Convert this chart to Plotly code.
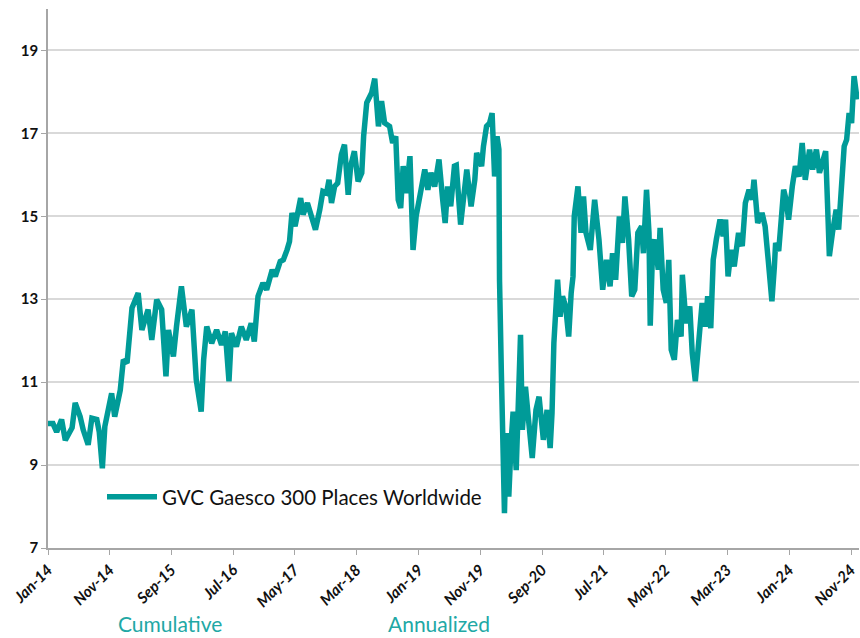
import pandas as pd
import plotly.graph_objects as go

# Months elapsed since Jan-2014 and index level
month_offset = [
    0, 0.8, 1.4, 2.2, 2.8, 3.9, 4.4, 5.2, 5.7, 6.5, 7.1, 7.9, 8.3, 8.8, 9.2, 10.3, 10.8,
    11.7, 12.2, 12.8, 13.6, 14.6, 15.2, 16.2, 16.8, 17.6, 18.4, 19.1, 19.5, 20.3, 20.8,
    21.6, 22.4, 23.3, 24.0, 24.8, 25.2, 25.7, 26.5, 27.3, 28.1, 28.7, 29.3, 29.7, 30.5,
    31.3, 32.1, 32.9, 33.4, 34.0, 34.8, 35.4, 36.3, 36.8, 37.6, 38.1, 38.7, 39.1, 39.5,
    40.0, 40.9, 41.3, 42.0, 42.7, 43.3, 44.0, 44.5, 45.1, 45.5, 45.9, 46.4, 46.9, 47.5,
    48.0, 48.6, 49.0, 49.6, 50.2, 50.8, 51.1, 51.6, 52.4, 52.9, 53.5, 54.0, 54.5, 55.3,
    55.8, 56.3, 56.7, 57.1, 57.5, 58.0, 58.6, 59.1, 59.6, 60.2, 61.0, 61.5, 62.0, 62.6,
    63.3, 63.9, 64.3, 64.7, 65.2, 65.8, 66.1, 66.8, 67.2, 67.8, 68.5, 69.1, 69.4, 70.2,
    70.5, 71.0, 71.5, 71.9, 72.3, 72.7, 73.0, 73.1, 73.4, 73.6, 73.9, 74.2, 74.6, 75.0,
    75.3, 75.8, 76.2, 76.5, 76.8, 77.3, 77.8, 78.4, 79.0, 79.5, 80.2, 80.8, 81.3, 81.6,
    81.9, 82.2, 82.5, 82.9, 83.3, 83.8, 84.3, 84.7, 85.0, 85.2, 85.8, 86.3, 86.7, 87.1,
    87.8, 88.5, 89.2, 89.8, 90.4, 91.0, 91.4, 91.9, 92.5, 93.0, 93.4, 94.0, 94.5, 95.0,
    95.5, 96.1, 96.4, 96.9, 97.3, 97.5, 97.9, 98.2, 98.8, 99.1, 99.6, 100.1, 100.5,
    100.9, 101.4, 101.9, 102.5, 102.7, 103.3, 103.9, 104.3, 104.8, 105.3, 105.9, 106.4,
    106.8, 107.3, 107.7, 108.2, 108.8, 109.3, 109.7, 110.1, 110.6, 111.1, 111.8, 112.4,
    112.9, 113.5, 114.0, 114.3, 114.9, 115.6, 116.1, 116.6, 117.2, 117.6, 117.8, 118.3,
    118.8, 119.1, 119.5, 119.9, 120.5, 121.0, 121.6, 122.1, 122.6, 123.3, 123.8, 124.4,
    124.9, 125.4, 125.9, 126.2, 126.5, 127.0, 127.6, 128.0, 128.4, 128.9, 129.3, 129.7,
    130.1, 130.5, 131.0,
]
values = [
    10.0, 10.0, 9.8, 10.1, 9.6, 9.9, 10.5, 10.17, 9.85, 9.49, 10.13, 10.1, 9.8, 8.92, 9.93, 10.73, 10.17,
    10.81, 11.54, 11.46, 12.79, 13.15, 12.26, 12.75, 12.02, 12.99, 12.75, 11.14, 12.26, 11.62, 12.34,
    13.31, 12.34, 12.75, 11.06, 10.29, 11.54, 12.34, 11.94, 12.26, 11.90, 12.22, 11.02, 12.18, 11.86,
    12.34, 12.02, 12.42, 11.98, 13.07, 13.39, 13.23, 13.71, 13.55, 13.91, 13.95, 14.19, 14.39, 15.08,
    14.76, 15.44, 15.04, 15.32, 14.92, 14.68, 15.16, 15.60, 15.56, 15.88, 15.32, 15.72, 15.80, 16.49,
    16.73, 15.52, 16.21, 16.57, 15.84, 16.05, 16.93, 17.74, 17.98, 18.32, 17.17, 17.78, 17.25, 17.17,
    16.77, 16.93, 15.40, 15.20, 16.21, 15.56, 16.45, 14.19, 15.00, 15.56, 16.13, 15.64, 16.05, 15.72,
    16.37, 15.40, 14.84, 15.72, 15.24, 16.21, 16.23, 14.80, 15.24, 16.13, 15.24, 15.88, 16.53, 16.21,
    16.69, 17.17, 17.25, 17.49, 15.96, 16.93, 16.61, 13.47, 11.22, 9.37, 7.84, 9.77, 8.24, 9.61,
    10.29, 8.88, 10.81, 12.14, 9.85, 10.89, 10.09, 9.17, 10.33, 10.65, 9.61, 10.33, 9.41, 10.25,
    11.94, 12.58, 13.47, 12.58, 13.07, 12.83, 12.10, 13.15, 13.55, 15.00, 15.72, 14.60, 15.48, 14.60,
    14.19, 15.40, 14.44, 13.23, 13.95, 13.31, 14.11, 13.47, 15.00, 14.36, 15.48, 14.44, 13.07, 13.23,
    14.60, 14.76, 14.11, 15.64, 14.60, 12.36, 14.28, 14.44, 13.71, 14.72, 13.23, 12.91, 13.95,
    11.78, 11.54, 12.50, 12.10, 13.59, 12.42, 12.83, 11.70, 11.02, 11.78, 12.91, 12.34,
    13.07, 12.30, 13.95, 14.44, 14.92, 14.52, 14.92, 13.55, 14.19, 13.79, 14.60, 14.28,
    15.32, 15.64, 15.40, 15.88, 14.84, 15.08, 14.76, 13.95, 12.95, 13.79, 14.36, 14.16,
    15.24, 15.64, 15.40, 14.92, 15.72, 16.21, 15.96, 16.77, 15.88, 16.61, 16.13, 16.61,
    16.05, 16.37, 16.57, 15.32, 14.04, 14.60, 15.16, 14.68, 15.72, 16.69, 16.85, 17.49,
    17.25, 18.38, 17.82,
]
series_name = "GVC Gaesco 300 Places Worldwide"
footer_labels = ["Cumulative", "Annualized"]

start = pd.Timestamp("2014-01-01")
dates = [start + pd.to_timedelta(m * 30.4375, unit="D") for m in month_offset]
x_end = start + pd.to_timedelta(131.3 * 30.4375, unit="D")

teal = "#009B98"

L, R, T, B = 48, 1, 9, 90
W, H = 860, 638
pw, ph = W - L - R, H - T - B

fig = go.Figure()
fig.add_trace(go.Scatter(
    x=dates, y=values, mode="lines", name=series_name,
    line=dict(color=teal, width=5.5, shape="linear"),
))

fig.update_layout(
    width=W, height=H,
    margin=dict(l=L, r=R, t=T, b=B, autoexpand=False),
    plot_bgcolor="white", paper_bgcolor="white",
    showlegend=True,
    legend=dict(
        x=(102 - L) / pw, y=(H - B - 497) / ph, xanchor="left", yanchor="middle",
        bgcolor="rgba(0,0,0,0)",
        font=dict(family="Lato, Open Sans, sans-serif", size=20.5, color="#111111"),
        itemwidth=50,
    ),
    xaxis=dict(
        type="date", range=[start, x_end], automargin=False,
        tick0="2014-01-01", dtick="M10", tickformat="%b-%y",
        tickangle=-45, ticks="outside", ticklen=5, tickcolor="#a6a6a6",
        showline=True, linecolor="#a6a6a6", linewidth=1.5,
        showgrid=False, zeroline=False,
        tickfont=dict(family="Lato, sans-serif", size=15.5, color="#111111", weight="bold", style="italic"),
    ),
    yaxis=dict(
        range=[7, 20], tick0=7, dtick=2, automargin=False,
        ticks="outside", ticklen=5, tickcolor="#a6a6a6",
        showline=True, linecolor="#a6a6a6", linewidth=1.5,
        showgrid=True, gridcolor="#d9d9d9", gridwidth=1.5,
        zeroline=False,
        tickfont=dict(family="Lato, sans-serif", size=15, color="#111111", weight="bold"),
    ),
)

footer_x = [170, 439]
for lbl, px in zip(footer_labels, footer_x):
    fig.add_annotation(
        text=lbl, xref="paper", yref="paper",
        x=(px - L) / pw, y=-(B - 1) / ph,
        xanchor="center", yanchor="bottom", showarrow=False, borderpad=0,
        font=dict(family="Lato, sans-serif", size=21, color="#21A8A5"),
    )

fig.write_html(
    "out.html",
    config={"displayModeBar": False},
    post_script="document.body.style.margin='0px';document.body.style.overflow='hidden';",
)
